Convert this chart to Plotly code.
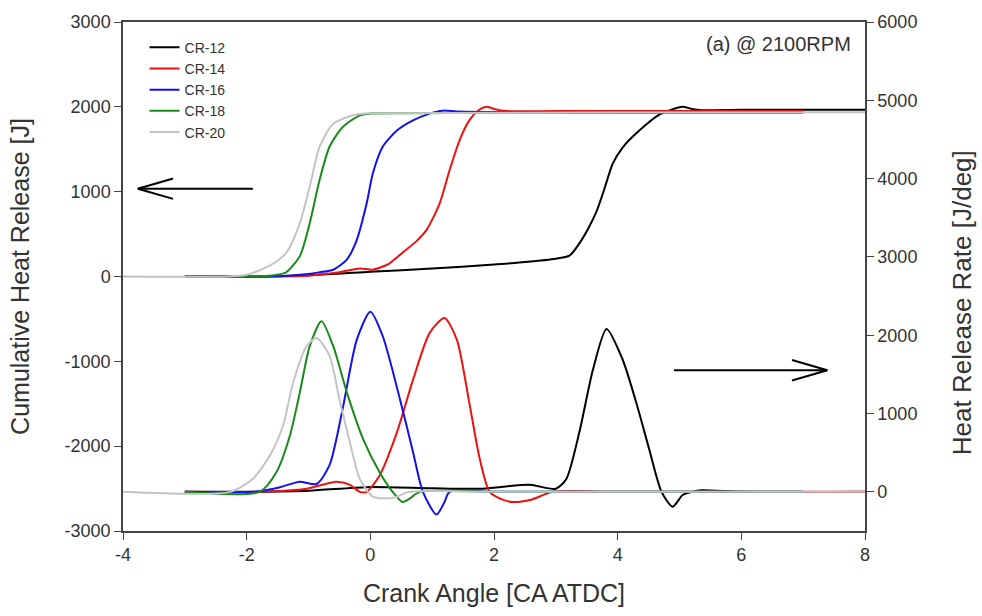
import plotly.graph_objects as go

# ---------------- data ----------------
series_names = ["CR-12", "CR-14", "CR-16", "CR-18", "CR-20"]
series_colors = ["#000000", "#ee1111", "#1111ee", "#1a8a1a", "#c4c4c4"]

# Cumulative heat release [J] (left axis)
chr12_x = [-3.0, -1.9, -1.0, 0.0, 1.0, 2.0, 2.5, 3.0, 3.22, 3.38, 3.52, 3.66, 3.78, 3.92, 4.08, 4.35, 4.68, 4.85, 5.05, 5.2, 5.35, 6.0, 7.0, 8.0]
chr12_y = [0, 0, 15, 55, 95, 140, 170, 210, 245, 390, 560, 770, 1020, 1330, 1520, 1720, 1910, 1960, 2000, 1975, 1960, 1965, 1965, 1965]

chr14_x = [-3.0, -1.8, -1.0, -0.5, -0.17, 0.04, 0.3, 0.52, 0.75, 0.91, 1.12, 1.28, 1.44, 1.6, 1.75, 1.88, 2.0, 2.2, 3.0, 5.0, 7.0]
chr14_y = [0, 0, 10, 50, 95, 80, 150, 280, 420, 550, 860, 1250, 1600, 1840, 1960, 2000, 1975, 1950, 1950, 1950, 1950]

chr16_x = [-3.0, -1.6, -1.0, -0.82, -0.6, -0.38, -0.22, -0.06, 0.04, 0.2, 0.43, 0.69, 0.96, 1.17, 1.4, 2.0, 4.0, 7.0]
chr16_y = [0, 0, 30, 50, 80, 200, 430, 860, 1215, 1530, 1720, 1840, 1920, 1955, 1945, 1940, 1940, 1940]

chr18_x = [-3.0, -1.8, -1.5, -1.36, -1.14, -0.98, -0.82, -0.66, -0.45, -0.17, 0.0, 0.5, 2.0, 4.0, 7.0]
chr18_y = [0, 0, 20, 50, 240, 630, 1140, 1530, 1760, 1900, 1920, 1925, 1930, 1930, 1930]

chr20_x = [-4.0, -2.3, -2.0, -1.62, -1.36, -1.14, -0.98, -0.82, -0.6, -0.28, -0.06, 0.5, 2.0, 4.0, 8.0]
chr20_y = [0, 0, 20, 130, 280, 630, 1060, 1530, 1800, 1900, 1920, 1925, 1930, 1935, 1935]

# Heat release rate [J/deg] (right axis)
hrr12_x = [-3.0, -2.2, -1.0, -0.06, 1.0, 1.77, 2.57, 3.0, 3.17, 3.38, 3.6, 3.82, 4.08, 4.3, 4.51, 4.71, 4.89, 5.05, 5.2, 5.35, 6.0, 8.0]
hrr12_y = [0, 0, 15, 60, 45, 40, 90, 40, 165, 760, 1560, 2080, 1690, 1140, 545, 0, -190, -40, 0, 20, 0, 0]

hrr14_x = [-3.0, -1.8, -1.03, -0.55, -0.33, -0.17, -0.06, 0.15, 0.43, 0.69, 0.96, 1.2, 1.4, 1.6, 1.77, 1.93, 2.14, 2.3, 2.6, 2.95, 4.0, 8.0]
hrr14_y = [0, 0, 40, 130, 90, 0, 0, 210, 760, 1430, 2030, 2220, 1940, 1140, 420, 0, -100, -130, -100, 0, 0, 0]

hrr16_x = [-3.0, -1.9, -1.46, -1.14, -0.87, -0.66, -0.45, -0.22, 0.0, 0.2, 0.48, 0.69, 0.85, 1.07, 1.2, 1.28, 2.0, 4.0, 7.0]
hrr16_y = [0, 0, 60, 130, 100, 340, 1050, 1940, 2300, 1990, 1180, 510, 0, -290, -130, 0, 0, 0, 0]

hrr18_x = [-3.0, -1.79, -1.52, -1.3, -1.14, -0.98, -0.79, -0.6, -0.38, -0.12, 0.15, 0.36, 0.52, 0.63, 0.8, 2.0, 4.0, 7.0]
hrr18_y = [0, 0, 250, 720, 1270, 1860, 2180, 1860, 1270, 680, 250, 0, -130, -90, 0, 0, 0, 0]

hrr20_x = [-4.0, -2.27, -1.9, -1.62, -1.41, -1.25, -1.03, -0.87, -0.66, -0.5, -0.33, -0.17, 0.04, 0.36, 0.63, 2.0, 4.0, 8.0]
hrr20_y = [0, 0, 165, 470, 850, 1390, 1860, 1965, 1740, 1180, 630, 165, -60, -80, 0, 0, 0, 0]

x_ticks = [-4, -2, 0, 2, 4, 6, 8]
x_ticktext = ["-4", "-2", "0", "2", "4", "6", "8"]
left_ticks = [-3000, -2000, -1000, 0, 1000, 2000, 3000]
left_ticktext = ["-3000", "-2000", "-1000", "0", "1000", "2000", "3000"]
right_ticks = [0, 1000, 2000, 3000, 4000, 5000, 6000]
right_ticktext = ["0", "1000", "2000", "3000", "4000", "5000", "6000"]

cum_x = [chr12_x, chr14_x, chr16_x, chr18_x, chr20_x]
cum_y = [chr12_y, chr14_y, chr16_y, chr18_y, chr20_y]
hrr_x = [hrr12_x, hrr14_x, hrr16_x, hrr18_x, hrr20_x]
hrr_y = [hrr12_y, hrr14_y, hrr16_y, hrr18_y, hrr20_y]

# ---------------- figure ----------------
fig = go.Figure()
for i in range(5):
    fig.add_trace(go.Scatter(
        x=cum_x[i], y=cum_y[i], mode="lines", name=series_names[i],
        line=dict(color=series_colors[i], width=2, shape="spline", smoothing=0.7),
        legendrank=i + 1, yaxis="y"))
for i in range(5):
    fig.add_trace(go.Scatter(
        x=hrr_x[i], y=hrr_y[i], mode="lines", name=series_names[i],
        line=dict(color=series_colors[i], width=2, shape="spline", smoothing=0.7),
        showlegend=False, yaxis="y2"))

axis_col = "#444444"
FONT = "Liberation Sans, Arial, sans-serif"
tick_font = dict(family=FONT, size=18, color="#333333")
title_font = dict(family=FONT, size=25, color="#333333")

fig.update_layout(
    width=982, height=616,
    margin=dict(l=123, r=117, t=17, b=85),
    paper_bgcolor="white", plot_bgcolor="white",
    showlegend=True,
    legend=dict(x=0.029, y=0.981, xanchor="left", yanchor="top",
                font=dict(family=FONT, size=14, color="#333333"),
                bgcolor="rgba(0,0,0,0)", tracegroupgap=0, itemwidth=30),
    xaxis=dict(range=[-4, 8], tickvals=x_ticks, ticktext=x_ticktext, ticks="outside", ticklen=7,
               tickcolor=axis_col, showline=True, linecolor=axis_col, linewidth=1.5,
               mirror=True, showgrid=False, zeroline=False, tickfont=tick_font,
               title=dict(text="Crank Angle [CA ATDC]", font=title_font, standoff=20)),
    yaxis=dict(range=[-3000, 3000], tickvals=left_ticks, ticktext=left_ticktext, ticks="outside", ticklen=7,
               tickcolor=axis_col, showline=True, linecolor=axis_col, linewidth=1.5,
               showgrid=False, zeroline=False, tickfont=tick_font,
               title=dict(text="Cumulative Heat Release [J]", font=title_font, standoff=28)),
    yaxis2=dict(range=[-500, 6000], tickvals=right_ticks, ticktext=right_ticktext, ticks="outside", ticklen=7,
                tickcolor=axis_col, showline=True, linecolor=axis_col, linewidth=1.5,
                overlaying="y", side="right", showgrid=False, zeroline=False,
                tickfont=tick_font),
)

# right axis title (placed slightly below centre, as in the original)
fig.add_annotation(text="Heat Release Rate [J/deg]", xref="paper", yref="paper",
                   x=1.131, y=0.448, xanchor="center", yanchor="middle", textangle=-90,
                   showarrow=False, font=dict(family=FONT, size=26, color="#333333"))

# panel label
fig.add_annotation(text="(a) @ 2100RPM", xref="paper", yref="paper", x=0.984, y=0.957,
                   xanchor="right", yanchor="middle", showarrow=False,
                   font=dict(family=FONT, size=20, color="#333333"))

# direction arrows (open "V" arrows in left-axis data coordinates)
left_arrow = dict(tail=(-1.90, 1035), tip=(-3.76, 1035), arm_x=-3.19, arm_dy=120)
right_arrow = dict(tail=(4.91, -1105), tip=(7.39, -1105), arm_x=6.82, arm_dy=120)
for a in (left_arrow, right_arrow):
    (tx, ty), (px, py) = a["tail"], a["tip"]
    ln = dict(color="black", width=2)
    fig.add_shape(type="line", xref="x", yref="y", x0=tx, y0=ty, x1=px, y1=py, line=ln)
    fig.add_shape(type="line", xref="x", yref="y", x0=px, y0=py, x1=a["arm_x"], y1=py + a["arm_dy"], line=ln)
    fig.add_shape(type="line", xref="x", yref="y", x0=px, y0=py, x1=a["arm_x"], y1=py - a["arm_dy"], line=ln)

fig.write_html("out.html")
